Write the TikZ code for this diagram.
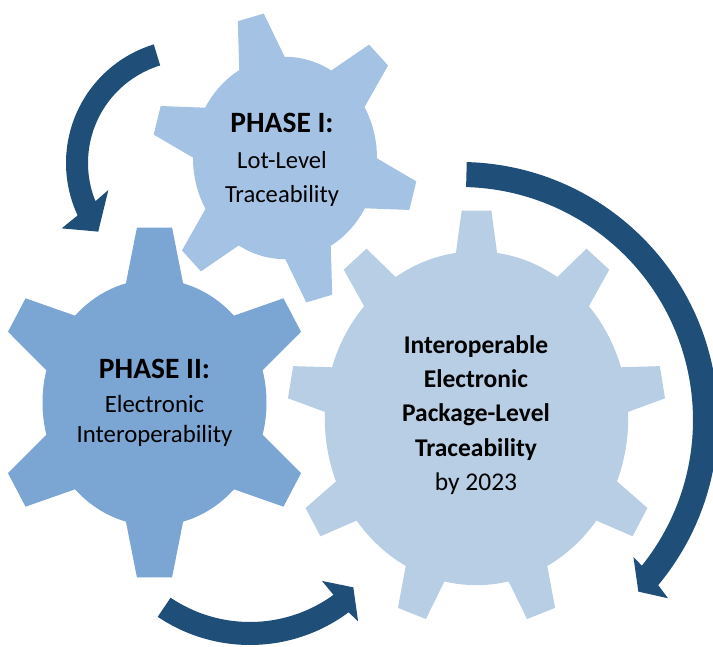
\documentclass[tikz,border=0pt]{standalone}
\usepackage{fontspec}
\setmainfont{Carlito}
\definecolor{gearone}{RGB}{164,194,228}
\definecolor{geartwo}{RGB}{123,165,210}
\definecolor{gearthree}{RGB}{183,206,228}
\definecolor{arrowblue}{RGB}{31,78,121}

\begin{document}
\begin{tikzpicture}[x=1pt,y=1pt,
  turn arrow/.style={fill=arrowblue},
  gear label/.style={align=center,inner sep=0pt,anchor=north,text=black}]

\useasboundingbox (0,0) rectangle (713,647);
\clip (0,0) rectangle (713,647);

% centres of the three gears
\coordinate (gear1) at (285,489);
\coordinate (gear2) at (154.5,244.5);
\coordinate (gear3) at (476.5,228.7);

% Phase I gear, small one at the top
\begin{scope}[shift={(gear1)},yscale=1.1]
\fill[gearone] (0,0) circle (92)
  \foreach \a in {45,105,...,345} {(\a-14.8:92) -- (\a-5.8:133) -- (\a+5.8:133) -- (\a+14.8:92) -- cycle};
\end{scope}

% Phase II gear, on the left
\begin{scope}[shift={(gear2)},yscale=1.1]
\fill[geartwo] (0,0) circle (112)
  \foreach \a in {30,90,...,330} {(\a-14.8:112) -- (\a-6.3:160) -- (\a+6.3:160) -- (\a+14.8:112) -- cycle};
\end{scope}

% the big gear, nine teeth
\begin{scope}[shift={(gear3)},yscale=1.1]
\fill[gearthree] (0,0) circle (151.7)
  \foreach \a in {10,50,...,330} {(\a-7.8:151.7) -- (\a-4.5:189.4) -- (\a+4.5:189.4) -- (\a+7.8:151.7) -- cycle};
\end{scope}

% Labels
\node[gear label,font=\fontsize{24.6}{34}\selectfont] (phaseone) at (282,533.7)
  {{\fontsize{29.5}{34}\selectfont\bfseries PHASE I:}\\[2pt] Lot-Level\\ Traceability};
\node[gear label,font=\fontsize{24.8}{30}\selectfont] (phasetwo) at (154.5,287.7)
  {{\fontsize{29.5}{30}\selectfont\bfseries PHASE II:}\\[3.4pt] Electronic\\ Interoperability};
\node[gear label,font=\fontsize{25.5}{34.4}\selectfont] (goal) at (476,312)
  {\bfseries Interoperable\\ \bfseries Electronic\\ \bfseries Package-Level\\ \bfseries Traceability\\ by 2023};

% Arrow from Phase I down to Phase II
\begin{scope}[shift={(190,484)}]
\fill[turn arrow] (107:124) arc[start angle=107,end angle=205,radius=124]
  -- (207:144) -- (216.8:114.6) -- (198.3:86) -- (202:102)
  arc[start angle=202,end angle=107,radius=102] -- cycle;
\end{scope}

% Arrow under Phase II towards the big gear
\begin{scope}[shift={(250,167)}]
\fill[turn arrow] (236:165) arc[start angle=236,end angle=306.7,radius=165]
  -- (307.4:178) -- (313.9:149) -- (305.5:124) -- (306:142)
  arc[start angle=306,end angle=236,radius=142] -- cycle;
\end{scope}

% Long arrow round the big gear
\begin{scope}[shift={(460,227)}]
\fill[turn arrow] (88.5:258) arc[start angle=88.5,end angle=-39.8,radius=258]
  -- (-40.6:274) -- (-43.9:247.5) -- (-38.3:221) -- (-38.7:233)
  arc[start angle=-38.7,end angle=88.5,radius=233] -- cycle;
\end{scope}
\end{tikzpicture}
\end{document}
